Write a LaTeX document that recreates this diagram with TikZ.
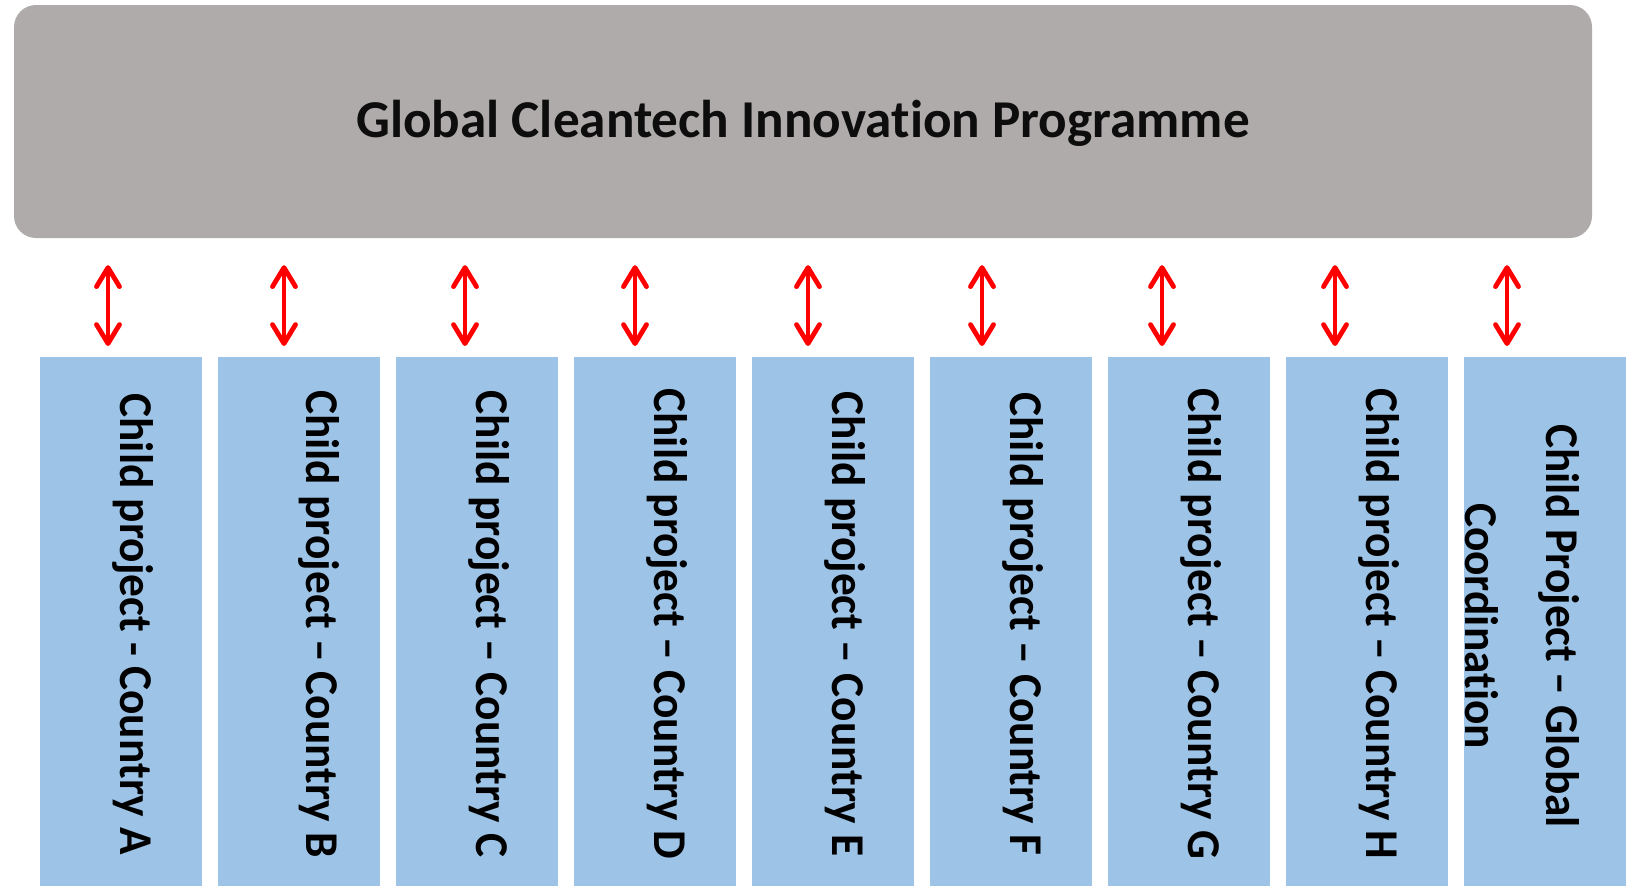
\documentclass[tikz,border=0pt]{standalone}
\usepackage{fontspec}
\setmainfont{Carlito}[Ligatures=NoCommon]
\newfontfamily\childfont{Carlito}[Ligatures=NoCommon, FakeStretch=0.965]
\usetikzlibrary{arrows.meta}
\definecolor{gcgray}{HTML}{AFABAB}
\definecolor{gcblue}{HTML}{9DC3E6}
\definecolor{gcred}{HTML}{FF0000}
\definecolor{gctext}{HTML}{0D0D0D}
\tikzset{
  progbox/.style={rounded corners=22pt, fill=gcgray, draw=none,
    minimum width=1578pt, minimum height=233pt, inner sep=0pt,
    text height=38pt, text depth=6pt,
    font=\bfseries\fontsize{53.2}{60}\selectfont, text=gctext},
  childbox/.style={fill=gcblue, draw=none, minimum width=162pt,
    minimum height=529pt, inner sep=0pt, anchor=north west},
  childtext/.style={rotate=-90, anchor=base, inner sep=0pt, text=black,
    font=\childfont\bfseries\fontsize{47}{81}\selectfont, align=center},
  biarrow/.style={draw=gcred, line width=4.8pt,
    {Straight Barb[length=19pt,width=23pt,round]}-{Straight Barb[length=19pt,width=23pt,round]},
    shorten <=27pt, shorten >=11pt}
}
\begin{document}
\begin{tikzpicture}[x=1pt,y=-1pt]
\useasboundingbox (0,0) rectangle (1632,886);
\node[progbox] (prog) at (803,121.5) {Global Cleantech Innovation Programme};
% child boxes
\node[childbox] (cA) at (40,357) {};
\node[childbox] (cB) at (218,357) {};
\node[childbox] (cC) at (396,357) {};
\node[childbox] (cD) at (574,357) {};
\node[childbox] (cE) at (752,357) {};
\node[childbox] (cF) at (930,357) {};
\node[childbox] (cG) at (1108,357) {};
\node[childbox] (cH) at (1286,357) {};
\node[childbox] (cI) at (1464,357) {};
% labels
\node[childtext] (tA) at (120,624) {Child project - Country A};
\node[childtext] (tB) at (306,624) {Child project – Country B};
\node[childtext] (tC) at (476,624) {Child project – Country C};
\node[childtext] (tD) at (654,624) {Child project – Country D};
\node[childtext] (tE) at (832,624) {Child project – Country E};
\node[childtext] (tF) at (1010,624) {Child project – Country F};
\node[childtext] (tG) at (1188,624) {Child project – Country G};
\node[childtext] (tH) at (1366,624) {Child project – Country H};
\node[childtext] (tI) at (1465,626) {Child Project – Global\\Coordination};
% arrow x positions
\coordinate (x1) at (108,0);
\coordinate (x2) at (284,0);
\coordinate (x3) at (465,0);
\coordinate (x4) at (635,0);
\coordinate (x5) at (808,0);
\coordinate (x6) at (982,0);
\coordinate (x7) at (1162,0);
\coordinate (x8) at (1335,0);
\coordinate (x9) at (1507,0);
\draw[biarrow] (prog.south -| x1) -- (cA.north -| x1);
\draw[biarrow] (prog.south -| x2) -- (cB.north -| x2);
\draw[biarrow] (prog.south -| x3) -- (cC.north -| x3);
\draw[biarrow] (prog.south -| x4) -- (cD.north -| x4);
\draw[biarrow] (prog.south -| x5) -- (cE.north -| x5);
\draw[biarrow] (prog.south -| x6) -- (cF.north -| x6);
\draw[biarrow] (prog.south -| x7) -- (cG.north -| x7);
\draw[biarrow] (prog.south -| x8) -- (cH.north -| x8);
\draw[biarrow] (prog.south -| x9) -- (cI.north -| x9);
\end{tikzpicture}
\end{document}
